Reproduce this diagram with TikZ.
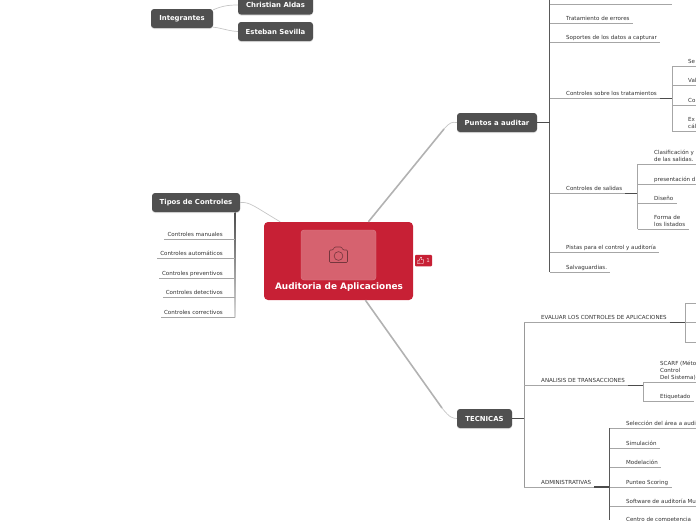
\documentclass[tikz,border=0pt]{standalone}
\usepackage{fontspec}
\setmainfont{DejaVu Sans}
\usepackage{xcolor}
\usetikzlibrary{calc,shadows}
\definecolor{rojoC}{HTML}{C72035}
\definecolor{rojoF}{HTML}{D6626F}
\definecolor{gris}{HTML}{505050}
\tikzset{
	tema/.style={draw=none, fill=gris, rounded corners=3pt, text=white, inner sep=0pt,
		minimum height=19pt, font=\bfseries\fontsize{6.9}{8}\selectfont,
		drop shadow={opacity=.25, shadow xshift=0pt, shadow yshift=-1pt}},
	hoja/.style={anchor=south west, inner xsep=3pt, inner ysep=1.8pt, align=left, text depth=1pt,
		text=black!80, font=\fontsize{5.55}{7}\selectfont},
	hojaizq/.style={hoja, anchor=south east},
	rama/.style={gray!70, line width=0.8pt},
	eje/.style={black!65, line width=0.8pt},
	ejesub/.style={gray!70, line width=0.8pt},
	corto/.style={black!70, line width=1.1pt},
	enlace/.style={gray!45, line width=0.7pt},
	enlacefuerte/.style={gray!60, line width=1.6pt}
}
\begin{document}
\begin{tikzpicture}[x=1pt,y=-1pt]
		\useasboundingbox (0,0) rectangle (696,520);
		\clip (0,0) rectangle (696,520);
		\coordinate (borde) at (696,0);
		
		% 1. Nodo central
		\node[fill=rojoC, rounded corners=4pt, minimum width=149pt, minimum height=78pt, inner sep=0pt] (centro) at (338.5,261) {};
		\node[fill=rojoF, draw=rojoF!80!white, rounded corners=3pt, minimum width=75pt, minimum height=50pt, inner sep=0pt] (foto) at (338.5,255) {};
		\node[text=white, font=\bfseries\fontsize{8.9}{10}\selectfont, inner sep=0pt] (titulo) at (339,287.5) {Auditoria de Aplicaciones};
		% camara
		\draw[black!45!rojoF, line width=0.6pt, rounded corners=1pt] (329.5,250) -- (333,250) -- (334.5,247) -- (341.5,247) -- (343,250) -- (347.5,250) -- (347.5,262.5) -- (329.5,262.5) -- cycle;
		\draw[black!45!rojoF, line width=0.6pt] (338.5,256) circle (4.4pt);
		% voto
		\node[fill=rojoC, rounded corners=1pt, minimum width=17pt, minimum height=11.5pt, inner sep=0pt, text=white!85!rojoC, font=\fontsize{5.5}{6}\selectfont] (voto) at (423.5,260.5) {\hspace{9pt}1};
		\draw[white, line width=0.35pt, line join=round] (417.5,260.5) -- (419,260.5) -- (420.8,257) -- (421.6,257.5) -- (421.4,259.8) -- (423.8,259.8) -- (423,263.8) -- (417.5,263.8) -- cycle (419,260.5) -- (419,263.8);
		
		% 2. Temas principales
		\node[tema, minimum width=62pt] (integrantes) at (182,18.5) {Integrantes};
		\node[tema, minimum width=75pt] (christian) at (275.5,5) {Christian Aldas};
		\node[tema, minimum width=75pt] (esteban) at (275.5,31.5) {Esteban Sevilla};
		\node[tema, minimum width=88pt] (tipos) at (196,202.5) {Tipos de Controles};
		\node[tema, minimum width=80pt] (puntos) at (497,122.5) {Puntos a auditar};
		\node[tema, minimum width=55pt] (tecnicas) at (484.5,418.5) {TECNICAS};
		
		% 3. Enlaces del centro y de Integrantes
		\draw[enlace] (integrantes.north east) ++(0,1) .. controls (222,6) and (228,5) .. (christian.west);
		\draw[enlace] (integrantes.south east) ++(0,-1) .. controls (222,28) and (228,31) .. (esteban.west);
		\draw[enlace] (tipos.east) .. controls (250,202) and (252,205) .. ($(centro.north west)!0.11!(centro.north east)$);
		\draw[enlacefuerte] ($(centro.north west)!0.70!(centro.north east)$) -- (444,129);
		\draw[enlace] (444,129) .. controls (450,122) and (452,122) .. (puntos.west);
		\draw[enlacefuerte] ($(centro.south west)!0.68!(centro.south east)$) -- (442,408);
		\draw[enlace] (442,408) .. controls (450,418) and (452,418) .. (tecnicas.west);
		
		% 4. Tipos de Controles
		\coordinate (ejeT) at (235,0);
		\shade[top color=black!70, bottom color=gray!30] (234.5,212) rectangle (235.5,317);
		\node[hojaizq] (manuales) at (226,239) {Controles manuales};
		\node[hojaizq] (automaticos) at (226,258.7) {Controles automáticos};
		\node[hojaizq] (preventivos) at (226,278) {Controles preventivos};
		\node[hojaizq] (detectivos) at (226,297.6) {Controles detectivos};
		\node[hojaizq] (correctivos) at (226,317) {Controles correctivos};
		\draw[rama] (ejeT |- manuales.south) -- (manuales.south west);
		\draw[rama] (ejeT |- automaticos.south) -- (automaticos.south west);
		\draw[rama] (ejeT |- preventivos.south) -- (preventivos.south west);
		\draw[rama] (ejeT |- detectivos.south) -- (detectivos.south west);
		\draw[rama] (ejeT |- correctivos.south) -- (correctivos.south west);
		
		% 5. Puntos a auditar
		\coordinate (ejeP) at (549.5,0);
		\coordinate (ejeS) at (672,0);
		\coordinate (ejeV) at (637.5,0);
		\draw[eje] (ejeP) -- (549.5,272);
		\draw[corto] (puntos.east) -- (ejeP |- puntos.east);
		\draw[rama] (549.5,4) -- (672,4);
		\node[hoja] (errores) at (563,23) {Tratamiento de errores};
		\node[hoja] (soportes) at (563,42.6) {Soportes de los datos a capturar};
		\node[hoja] (sobre) at (563,98.6) {Controles sobre los tratamientos};
		\node[hoja] (salidas) at (563,193.3) {Controles de salidas};
		\node[hoja] (pistas) at (563,252.6) {Pistas para el control y auditoría};
		\node[hoja] (salva) at (563,272) {Salvaguardias.};
		\draw[rama] (ejeP |- errores.south) -- (errores.south east);
		\draw[rama] (ejeP |- soportes.south) -- (soportes.south east);
		\draw[rama] (ejeP |- sobre.south) -- (sobre.south east);
		\draw[rama] (ejeP |- salidas.south) -- (salidas.south east);
		\draw[rama] (ejeP |- pistas.south) -- (pistas.south east);
		\draw[rama] (ejeP |- salva.south) -- (salva.south east);
		\draw[corto] (sobre.south east) -- (ejeS |- sobre.south);
		\draw[corto] (salidas.south east) -- (ejeV |- salidas.south);
		
		% 5.1 Controles sobre los tratamientos
		\draw[ejesub] (672,66) -- (672,131);
		\node[hoja] (se) at (685,66) {Se};
		\node[hoja] (val) at (685,85.5) {Val};
		\node[hoja] (co) at (685,105) {Co};
		\node[hoja] (ex) at (685,131) {Ex\\cál};
		\draw[rama] (ejeS |- se.south) -- (se.south -| borde);
		\draw[rama] (ejeS |- val.south) -- (val.south -| borde);
		\draw[rama] (ejeS |- co.south) -- (co.south -| borde);
		\draw[rama] (ejeS |- ex.south) -- (ex.south -| borde);
		
		% 5.2 Controles de salidas
		\draw[ejesub] (637.5,164) -- (637.5,229);
		\node[hoja] (clasif) at (651,164) {Clasificación y\\de las salidas.};
		\node[hoja] (present) at (651,184) {presentación di};
		\node[hoja] (diseno) at (651,203) {Diseño};
		\node[hoja] (forma) at (651,229) {Forma de\\los listados};
		\draw[rama] (ejeV |- clasif.south) -- (clasif.south -| borde);
		\draw[rama] (ejeV |- present.south) -- (present.south -| borde);
		\draw[rama] (ejeV |- diseno.south) -- (677,203);
		\draw[rama] (ejeV |- forma.south) -- (689,229);
		
		% 6. TECNICAS
		\coordinate (ejeK) at (524,0);
		\coordinate (ejeE) at (685,0);
		\coordinate (ejeA) at (643,0);
		\coordinate (ejeM) at (609.5,0);
		\draw[eje, gray!80] (524,322.3) -- (524,487);
		\draw[corto] (tecnicas.east) -- (ejeK |- tecnicas.east);
		\node[hoja] (evaluar) at (538,322.3) {EVALUAR LOS CONTROLES DE APLICACIONES};
		\node[hoja] (analisis) at (538,385.3) {ANALISIS DE TRANSACCIONES};
		\node[hoja] (admin) at (538,487) {ADMINISTRATIVAS};
		\draw[rama] (ejeK |- evaluar.south) -- (evaluar.south east);
		\draw[rama] (ejeK |- analisis.south) -- (analisis.south east);
		\draw[rama] (ejeK |- admin.south) -- (admin.south east);
		\draw[corto] (evaluar.south east) -- (ejeE |- evaluar.south);
		\draw[corto] (analisis.south east) -- (ejeA |- analisis.south);
		\draw[corto] (admin.south east) -- (ejeM |- admin.south);
		
		% 6.1 Evaluar
		\draw[ejesub] (685,303) -- (685,342);
		\draw[rama] (685,303) -- (borde |- 685,303);
		\draw[rama] (685,322.3) -- (borde |- 685,322.3);
		\draw[rama] (685,342) -- (borde |- 685,342);
		
		% 6.2 Analisis
		\draw[ejesub] (643,382) -- (643,401);
		\node[hoja] (scarf) at (657,382) {SCARF (Méto\\Control\\Del Sistema)};
		\node[hoja] (etiquetado) at (657,401) {Etiquetado};
		\draw[rama] (ejeA |- scarf.south) -- (scarf.south -| borde);
		\draw[rama] (ejeA |- etiquetado.south) -- (etiquetado.south east);
		
		% 6.3 Administrativas
		\draw[eje] (609.5,428) -- (609.5,520);
		\node[hoja] (seleccion) at (623,428) {Selección del área a audi};
		\node[hoja] (simulacion) at (623,448) {Simulación};
		\node[hoja] (modelacion) at (623,467.5) {Modelación};
		\node[hoja] (punteo) at (623,487) {Punteo Scoring};
		\node[hoja] (software) at (623,506.5) {Software de auditoría Mul};
		\node[hoja] (centrocomp) at (623,524.5) {Centro de competencia};
		\draw[rama] (ejeM |- seleccion.south) -- (seleccion.south -| borde);
		\draw[rama] (ejeM |- simulacion.south) -- (660,448);
		\draw[rama] (ejeM |- modelacion.south) -- (661,467.5);
		\draw[rama] (ejeM |- punteo.south) -- (672,487);
		\draw[rama] (ejeM |- software.south) -- (software.south -| borde);
		
	\end{tikzpicture}
\end{document}
